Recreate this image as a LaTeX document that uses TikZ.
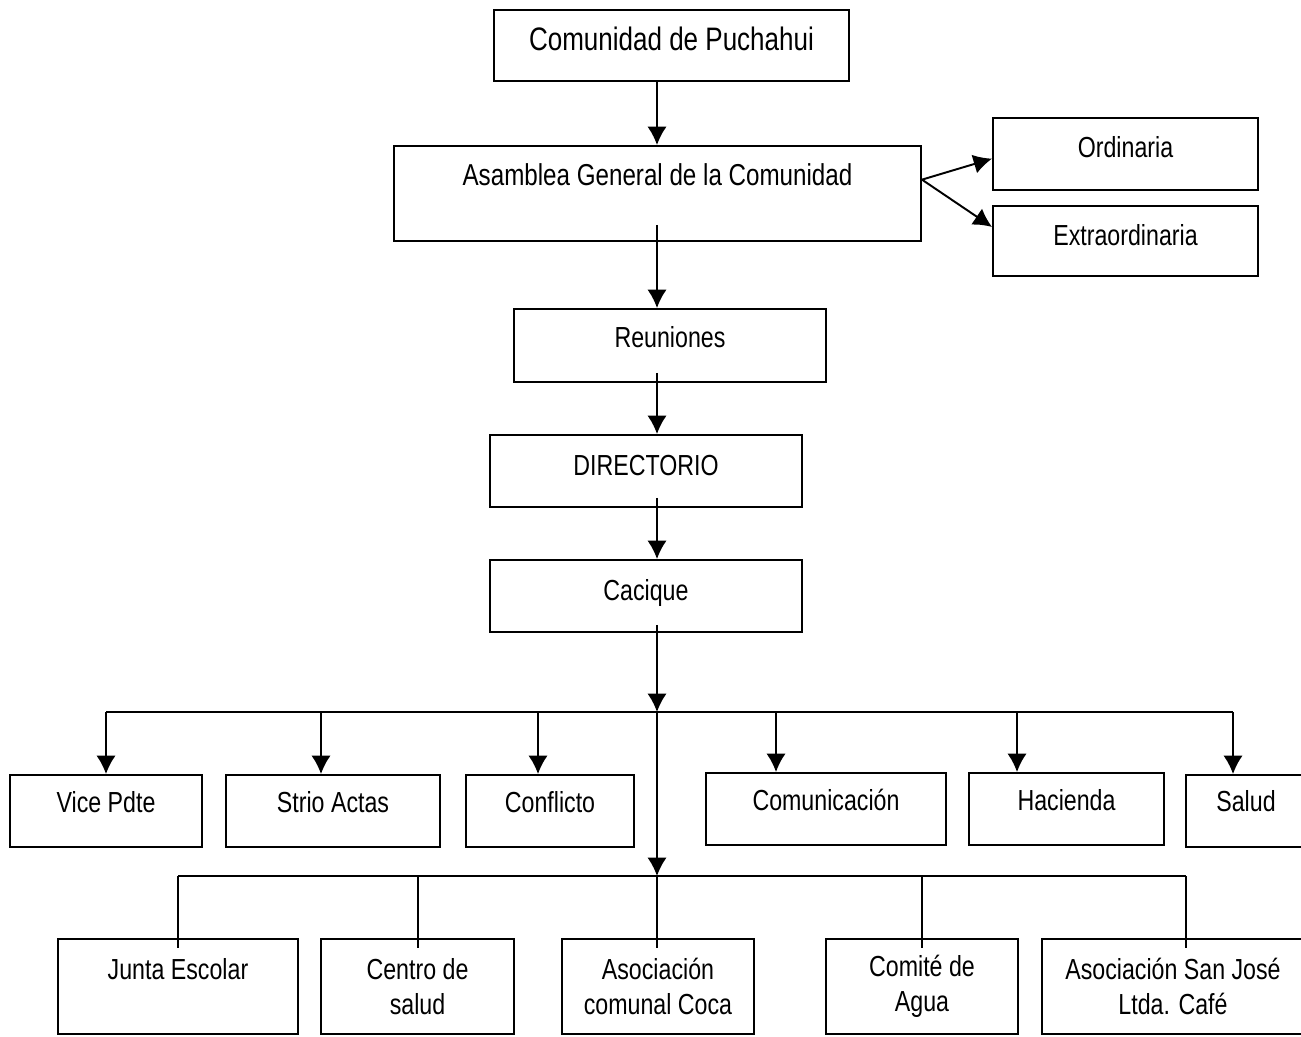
\documentclass[tikz,border=0pt]{standalone}
\usepackage{fontspec}
\setmainfont[FakeStretch=0.8]{Liberation Sans}
\usetikzlibrary{arrows.meta,calc}

\tikzset{
  block/.style={draw, rectangle, line width=1.1pt, inner sep=0pt, align=center},
  oneline/.style={block, text height=11.8pt, text depth=#1},
  oneline/.default=6.8pt,
}

\begin{document}
\begin{tikzpicture}[>={Latex[length=10.5pt,width=11pt]}, line width=1.1pt, font=\fontsize{16.5}{20}\selectfont]
\useasboundingbox (0,0) rectangle (26.02,-20.72);
\coordinate (spine) at (13.14,0);

\node[oneline=6.2pt, minimum width=7.10cm, minimum height=1.42cm, font=\fontsize{18.5}{22}\selectfont] (puchahui) at (13.43,-0.91) {Comunidad de Puchahui};
\node[oneline=21pt, minimum width=10.54cm, minimum height=1.90cm, font=\fontsize{17.2}{20}\selectfont] (asamblea) at (13.15,-3.87) {Asamblea General de la Comunidad};
\node[oneline=8pt, minimum width=5.30cm, minimum height=1.44cm] (ordinaria) at (22.51,-3.08) {Ordinaria};
\node[oneline, minimum width=5.30cm, minimum height=1.40cm] (extra) at (22.51,-4.82) {Extraordinaria};
\node[oneline=9.6pt, minimum width=6.24cm, minimum height=1.46cm] (reuniones) at (13.40,-6.91) {Reuniones};
\node[oneline, minimum width=6.24cm, minimum height=1.44cm] (directorio) at (12.92,-9.42) {DIRECTORIO};
\node[oneline, minimum width=6.24cm, minimum height=1.44cm] (cacique) at (12.92,-11.92) {Cacique};

% secretarias
\node[oneline=9.6pt, minimum width=3.84cm, minimum height=1.44cm] (vice) at (2.12,-16.22) {Vice Pdte};
\node[oneline=9.6pt, minimum width=4.28cm, minimum height=1.44cm] (strio) at (6.66,-16.22) {Strio Actas};
\node[oneline=9.6pt, minimum width=3.36cm, minimum height=1.44cm] (conflicto) at (11.00,-16.22) {Conflicto};
\node[oneline=9.6pt, minimum width=4.80cm, minimum height=1.44cm] (comunicacion) at (16.52,-16.18) {Comunicación};
\node[oneline=9.6pt, minimum width=3.90cm, minimum height=1.44cm] (hacienda) at (21.33,-16.18) {Hacienda};
\node[oneline=11pt, minimum width=2.40cm, minimum height=1.44cm] (salud) at (24.92,-16.22) {Salud};

% organizaciones
\node[oneline=20pt, minimum width=4.80cm, minimum height=1.90cm] (junta) at (3.56,-19.73) {Junta Escolar};
\node[block, minimum width=3.86cm, minimum height=1.90cm] (centro) at (8.35,-19.73) {Centro de\\salud};
\node[block, minimum width=3.84cm, minimum height=1.90cm] (coca) at (13.16,-19.73) {Asociación\\comunal Coca};
\node[block, minimum width=3.84cm, minimum height=1.90cm] (comite) at (18.44,-19.73) {Comité de\\Agua};
\node[block, minimum width=5.24cm, minimum height=1.90cm] (sanjose) at (23.46,-19.73) {Asociación San José\\Ltda. Café};

\coordinate (j1) at (13.14,-14.24);
\coordinate (j2) at (13.14,-17.52);
\coordinate (d1) at (2.12,-14.24);
\coordinate (d2) at (6.42,-14.24);
\coordinate (d3) at (10.76,-14.24);
\coordinate (d4) at (15.52,-14.24);
\coordinate (d5) at (20.34,-14.24);
\coordinate (d6) at (24.66,-14.24);
\coordinate (e1) at (3.56,-17.52);
\coordinate (e2) at (8.36,-17.52);
\coordinate (e4) at (18.44,-17.52);
\coordinate (e5) at (23.72,-17.52);

\draw[->] (puchahui.south -| spine) -- (asamblea.north -| spine);
\draw[->] (asamblea.3) -- (ordinaria.182);
\draw[->] (asamblea.3) -- (extra.174);
\draw[->] ($(asamblea.south -| spine)+(0,0.34)$) -- (reuniones.north -| spine);
\draw[->] ($(reuniones.south -| spine)+(0,0.2)$) -- (directorio.north -| spine);
\draw[->] ($(directorio.south -| spine)+(0,0.2)$) -- (cacique.north -| spine);
\draw[->] ($(cacique.south -| spine)+(0,0.16)$) -- (j1);
\draw[->] (j1) -- (j2);
\draw (j2) -- ($(coca.north -| spine)+(0,-0.2)$);

\draw (d1) -- (d6);
\draw[->] (d1) -- (vice.north);
\draw[->] (d2) -- (d2 |- strio.north);
\draw[->] (d3) -- (d3 |- conflicto.north);
\draw[->] (d4) -- (d4 |- comunicacion.north);
\draw[->] (d5) -- (d5 |- hacienda.north);
\draw[->] (d6) -- (d6 |- salud.north);

\draw (e1) -- (e5);
\draw (e1) -- ($(junta.north)+(0,-0.2)$);
\draw (e2) -- ($(e2 |- centro.north)+(0,-0.2)$);
\draw (e4) -- ($(comite.north)+(0,-0.2)$);
\draw (e5) -- ($(e5 |- sanjose.north)+(0,-0.2)$);
\end{tikzpicture}
\end{document}
